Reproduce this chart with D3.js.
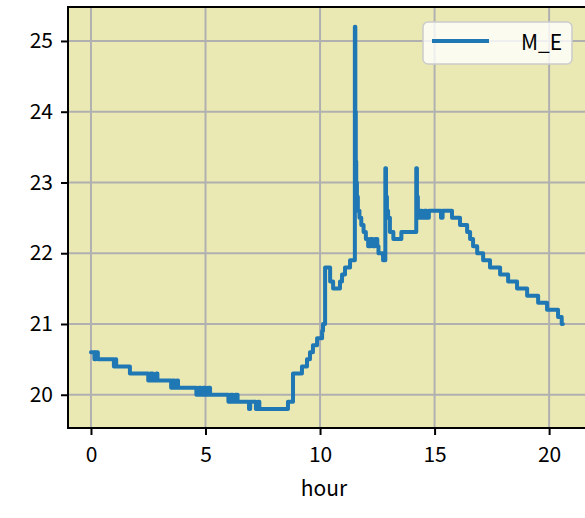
<!DOCTYPE html>
<html>
<head>
<meta charset="utf-8">
<script src="https://cdn.jsdelivr.net/npm/d3@7"></script>
<style>
  html, body { margin: 0; padding: 0; background: #ffffff; }
  svg { display: block; }
  text { font-family: "Noto Sans CJK JP", "DejaVu Sans", sans-serif; }
</style>
</head>
<body>
<script>
// ---- data ----
const seriesName = "M_E";
const xLabel = "hour";
const xTicks = [0, 5, 10, 15, 20];
const yTicks = [20, 21, 22, 23, 24, 25];
const hours = [
  0.0, 0.15, 0.2, 0.3, 1.0, 1.05, 1.1, 1.7,
  2.5, 2.6, 2.7, 2.85, 2.9,
  3.5, 3.55, 3.65, 3.75, 3.8,
  4.6, 4.7, 4.8, 4.9, 5.0, 5.1, 5.2,
  6.0, 6.1, 6.2, 6.3, 6.4, 6.9, 6.95, 7.2, 7.3, 7.35,
  8.6, 8.82, 9.21, 9.43, 9.56, 9.69, 9.87, 10.09, 10.13, 10.22,
  10.44, 10.57, 10.87, 10.96, 11.09, 11.31, 11.52,
  11.54, 11.56, 11.58, 11.61, 11.65, 11.72, 11.8, 11.9, 12.0, 12.1, 12.2, 12.3, 12.4, 12.5, 12.55, 12.75,
  12.85, 12.88, 12.92, 12.97, 13.05, 13.2, 13.55,
  14.2, 14.23, 14.27, 14.3, 14.35, 14.45, 14.55, 14.65, 14.75, 15.28, 15.35,
  15.76, 16.11, 16.42, 16.55, 16.68, 16.86, 17.12, 17.42, 17.86, 18.21,
  18.6, 19.04, 19.52, 19.91, 20.39, 20.55, 20.6
];
const temps = [
  20.6, 20.5, 20.6, 20.5, 20.4, 20.5, 20.4, 20.3,
  20.2, 20.3, 20.2, 20.3, 20.2,
  20.1, 20.2, 20.1, 20.2, 20.1,
  20.0, 20.1, 20.0, 20.1, 20.0, 20.1, 20.0,
  19.9, 20.0, 19.9, 20.0, 19.9, 19.8, 19.9, 19.8, 19.9, 19.8,
  19.9, 20.3, 20.4, 20.5, 20.6, 20.7, 20.8, 20.9, 21.0, 21.8,
  21.6, 21.5, 21.6, 21.7, 21.8, 21.9, 25.2,
  24.0, 23.3, 23.0, 22.8, 22.6, 22.5, 22.4, 22.3, 22.2, 22.1, 22.2, 22.1, 22.2, 22.1, 22.0, 21.9,
  23.2, 22.8, 22.6, 22.5, 22.3, 22.2, 22.3,
  23.2, 22.8, 22.6, 22.5, 22.6, 22.5, 22.6, 22.5, 22.6, 22.5, 22.6,
  22.5, 22.4, 22.3, 22.2, 22.1, 22.0, 21.9, 21.8, 21.7, 21.6,
  21.5, 21.4, 21.3, 21.2, 21.1, 21.0, 21.0
];
const data = hours.map((h, i) => ({ h, v: temps[i] }));

// ---- layout ----
const W = 585, H = 518;
const plot = { left: 68, top: 7, right: 586, bottom: 428 };

const svg = d3.select("body").append("svg").attr("width", W).attr("height", H);

const x = d3.scaleLinear().domain([-1.003, 21.61]).range([plot.left, plot.right]);
const y = d3.scaleLinear().domain([19.53, 25.48]).range([plot.bottom, plot.top]);

// background
svg.append("rect")
  .attr("x", plot.left).attr("y", plot.top)
  .attr("width", plot.right - plot.left).attr("height", plot.bottom - plot.top)
  .attr("fill", "#ebe9b3");

// grid
const grid = svg.append("g").attr("stroke", "#b0b0b0").attr("stroke-width", 2);
grid.selectAll("line.gx").data(xTicks).join("line")
  .attr("x1", d => x(d)).attr("x2", d => x(d))
  .attr("y1", plot.top).attr("y2", plot.bottom);
grid.selectAll("line.gy").data(yTicks).join("line")
  .attr("y1", d => y(d)).attr("y2", d => y(d))
  .attr("x1", plot.left).attr("x2", plot.right);

// line
const line = d3.line().x(d => x(d.h)).y(d => y(d.v)).curve(d3.curveStepAfter);
svg.append("path").datum(data)
  .attr("d", line)
  .attr("fill", "none")
  .attr("stroke", "#1f77b4")
  .attr("stroke-width", 4)
  .attr("stroke-linejoin", "round")
  .attr("stroke-linecap", "round");

// axes
const xAxis = d3.axisBottom(x).tickValues(xTicks).tickSize(7).tickPadding(12).tickFormat(d3.format("d"));
const yAxis = d3.axisLeft(y).tickValues(yTicks).tickSize(7).tickPadding(8).tickFormat(d3.format("d"));

const gx = svg.append("g").attr("transform", `translate(0,${plot.bottom})`).call(xAxis);
const gy = svg.append("g").attr("transform", `translate(${plot.left},0)`).call(yAxis);
[gx, gy].forEach(g => {
  g.select(".domain").remove();
  g.selectAll(".tick line").attr("stroke", "#000").attr("stroke-width", 2);
  g.selectAll(".tick text").attr("fill", "#000").attr("font-size", 21)
    .style("font-family", '"Noto Sans CJK JP", sans-serif');
});

// spines
svg.append("rect")
  .attr("x", plot.left).attr("y", plot.top)
  .attr("width", plot.right - plot.left).attr("height", plot.bottom - plot.top)
  .attr("fill", "none").attr("stroke", "#000").attr("stroke-width", 2);

// x label
svg.append("text")
  .attr("x", (x(0) + x(20)) / 2 + 4).attr("y", 496)
  .attr("text-anchor", "middle").attr("font-size", 21).attr("fill", "#000")
  .text(xLabel);

// legend
const lg = svg.append("g");
lg.append("rect")
  .attr("x", 423).attr("y", 22).attr("width", 149).attr("height", 42).attr("rx", 5)
  .attr("fill", "#ffffff").attr("fill-opacity", 0.8)
  .attr("stroke", "#cccccc").attr("stroke-width", 1.5);
lg.append("line")
  .attr("x1", 432).attr("x2", 489).attr("y1", 41).attr("y2", 41)
  .attr("stroke", "#1f77b4").attr("stroke-width", 4);
lg.append("text")
  .attr("x", 521).attr("y", 50)
  .attr("font-size", 21).attr("fill", "#000")
  .text(seriesName);
</script>
</body>
</html>
